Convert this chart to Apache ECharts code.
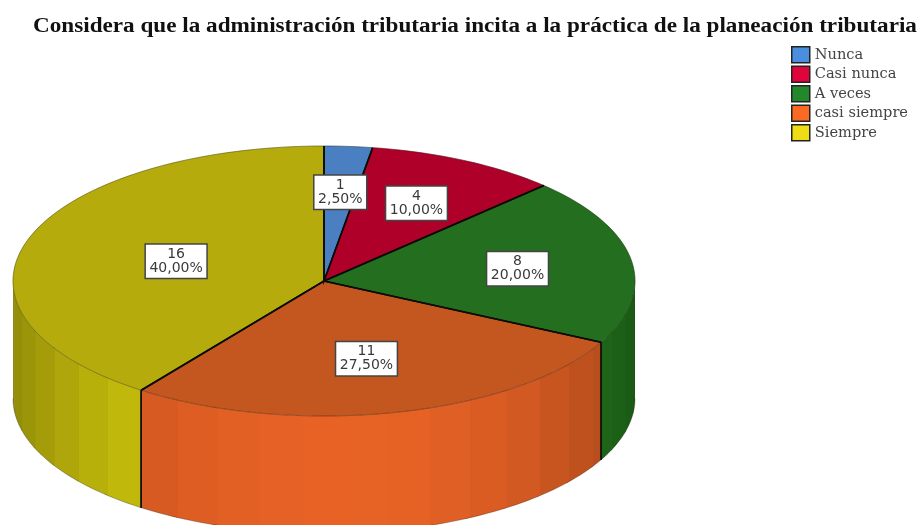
<!DOCTYPE html>
<html>
<head>
<meta charset="utf-8">
<style>html,body{margin:0;padding:0;background:#fff}#c{width:921px;height:525px;filter:blur(0.45px)}</style>
<script src="https://cdn.jsdelivr.net/npm/echarts@6/dist/echarts.min.js"></script>
</head>
<body>
<div id="c"></div>
<script>
// --- data ---
const titleText = 'Considera que la administración tributaria incita a la práctica de la planeación tributaria';
const categories = ['Nunca', 'Casi nunca', 'A veces', 'casi siempre', 'Siempre'];
const counts = [1, 4, 8, 11, 16];
const percentLabels = ['2,50%', '10,00%', '20,00%', '27,50%', '40,00%'];

// --- styles ---
const legendColors = ['#4a8ee0', '#e0043c', '#23882c', '#fb6a22', '#eedc14'];
const topColors = ['#4a7fc1', '#ae0029', '#236e1f', '#c4561f', '#b6ab0c'];
const wallColors = ['#4a7fc1', '#ae0029', '#26821f', '#e86225', '#d9d00c'];

// --- geometry of the tilted disc ---
const CX = 324, CY = 281, RX = 311, RY = 135, DEPTH = 117.5;
const labelRadial = [0.667, 0.655, 0.63, 0.585, 0.5];
const BAND = 8;

const total = counts.reduce((a, b) => a + b, 0);
const toDeg = v => v / total * 360;
const starts = [];
counts.reduce((acc, v, i) => { starts[i] = acc; return acc + toDeg(v); }, 0);

const pt = (deg, dy, k) => {
  const r = deg * Math.PI / 180, f = k === undefined ? 1 : k;
  return [CX + RX * f * Math.sin(r), CY - RY * f * Math.cos(r) + (dy || 0)];
};
const arc = (a0, a1, dy) => {
  const n = Math.max(2, Math.ceil(Math.abs(a1 - a0) / 1.5)), out = [];
  for (let i = 0; i <= n; i++) out.push(pt(a0 + (a1 - a0) * i / n, dy));
  return out;
};
const shadeOf = deg => {
  const c = Math.max(0, Math.cos((deg - 178) * Math.PI / 180));
  return 0.66 + 0.34 * Math.pow(c, 1.4);
};
const scaleColor = (hex, s) => {
  const n = parseInt(hex.slice(1), 16);
  const ch = v => Math.round(v * s);
  return 'rgb(' + ch(n >> 16) + ',' + ch((n >> 8) & 255) + ',' + ch(n & 255) + ')';
};

function renderSlice(params) {
  const i = params.seriesIndex, a0 = starts[i], a1 = a0 + toDeg(counts[i]);
  const children = [];

  // front wall, in flat bands; each band runs under its neighbour so no seam shows
  const w0 = Math.max(a0, 90), w1 = Math.min(a1, 270);
  if (w1 > w0) {
    const cuts = [w0];
    for (let b = 216 - 20 * BAND; b < 300; b += BAND) if (b > w0 && b < w1) cuts.push(b);
    cuts.push(w1);
    for (let k = 0; k < cuts.length - 1; k++) {
      const end = Math.min(cuts[k + 1] + 1, w1);
      const top = arc(cuts[k], end, 0), bottom = arc(end, cuts[k], DEPTH);
      const col = scaleColor(wallColors[i], shadeOf((cuts[k] + cuts[k + 1]) / 2));
      children.push({ type: 'polygon', z2: 1, shape: { points: top.concat(bottom) },
        style: { fill: col } });
    }
    children.push({ type: 'polyline', z2: 3, shape: { points: arc(w0, w1, DEPTH) },
      style: { fill: null, stroke: 'rgba(20,20,10,0.3)', lineWidth: 1 } });
    [a0, a1].forEach(a => {
      if (a > 90 && a < 270) {
        children.push({ type: 'line', z2: 4,
          shape: { x1: pt(a)[0], y1: pt(a)[1], x2: pt(a)[0], y2: pt(a)[1] + DEPTH },
          style: { stroke: '#14140a', lineWidth: 1.6 } });
      }
    });
  }

  // top face
  children.push({ type: 'polygon', z2: 2, shape: { points: [[CX, CY]].concat(arc(a0, a1, 0)) },
    style: { fill: topColors[i], stroke: topColors[i], lineWidth: 0.4 } });
  children.push({ type: 'polyline', z2: 3, shape: { points: arc(a0, a1, 0) },
    style: { fill: null, stroke: 'rgba(20,20,10,0.35)', lineWidth: 1 } });
  children.push({ type: 'polyline', z2: 5, shape: { points: [pt(a0), [CX, CY], pt(a1)] },
    style: { fill: null, stroke: '#0c0c06', lineWidth: 1.6 } });

  // value label
  const mid = (a0 + a1) / 2, lp = pt(mid, 1, labelRadial[i]);
  children.push({ type: 'text', z2: 20, x: lp[0], y: lp[1],
    style: { text: counts[i] + '\n' + percentLabels[i], align: 'center', verticalAlign: 'middle',
      font: '14px "DejaVu Sans"', lineHeight: 14, fill: '#3a3a3a',
      backgroundColor: '#fff', borderColor: '#444', borderWidth: 1.5, padding: [3, 3.5, 2, 3.5] } });
  return { type: 'group', children };
}

const chart = echarts.init(document.getElementById('c'), null, { renderer: 'canvas' });
chart.setOption({
  animation: false,
  backgroundColor: '#fff',
  graphic: [{ type: 'text', x: 33, y: 27, scaleX: 1.158,
    style: { text: titleText, verticalAlign: 'middle', fill: '#111',
      font: 'bold 20px "Liberation Serif"' } }],
  legend: { left: 786, top: 41, orient: 'vertical', itemWidth: 18, itemHeight: 16, itemGap: 2,
    icon: 'rect', selectedMode: false, data: categories,
    textStyle: { fontFamily: 'DejaVu Serif', fontSize: 14.6, lineHeight: 16, color: '#444' },
    itemStyle: { borderColor: '#222', borderWidth: 1.5 } },
  series: categories.map((name, i) => ({
    type: 'custom', name, coordinateSystem: 'none', silent: true,
    itemStyle: { color: legendColors[i] },
    data: [[counts[i]]],
    renderItem: renderSlice
  }))
});
</script>
</body>
</html>
